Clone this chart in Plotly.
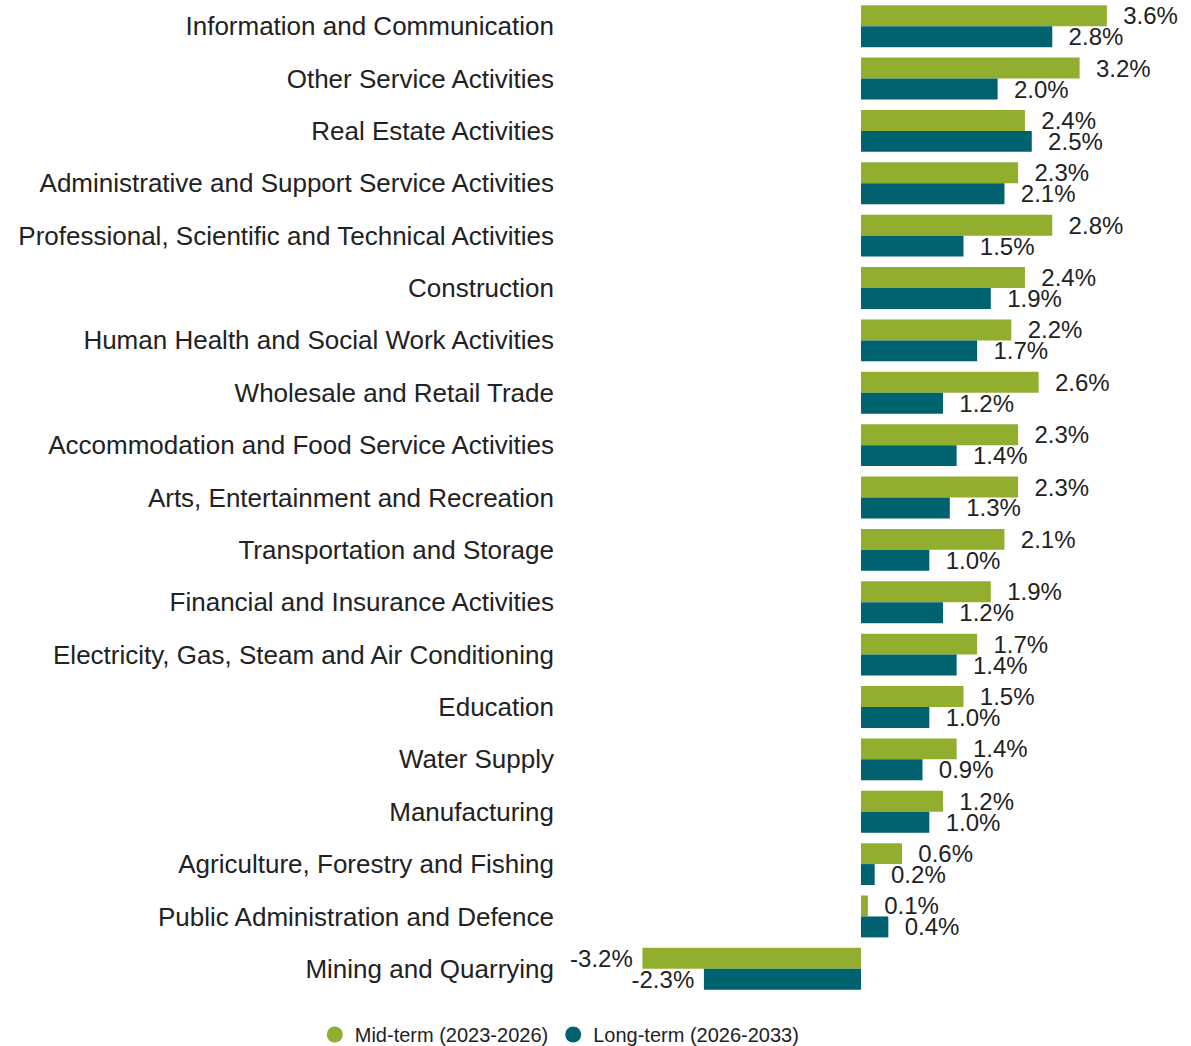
import plotly.graph_objects as go

categories = [
    "Information and Communication",
    "Other Service Activities",
    "Real Estate Activities",
    "Administrative and Support Service Activities",
    "Professional, Scientific and Technical Activities",
    "Construction",
    "Human Health and Social Work Activities",
    "Wholesale and Retail Trade",
    "Accommodation and Food Service Activities",
    "Arts, Entertainment and Recreation",
    "Transportation and Storage",
    "Financial and Insurance Activities",
    "Electricity, Gas, Steam and Air Conditioning",
    "Education",
    "Water Supply",
    "Manufacturing",
    "Agriculture, Forestry and Fishing",
    "Public Administration and Defence",
    "Mining and Quarrying",
]
mid_term = [3.6, 3.2, 2.4, 2.3, 2.8, 2.4, 2.2, 2.6, 2.3, 2.3, 2.1, 1.9, 1.7, 1.5, 1.4, 1.2, 0.6, 0.1, -3.2]
long_term = [2.8, 2.0, 2.5, 2.1, 1.5, 1.9, 1.7, 1.2, 1.4, 1.3, 1.0, 1.2, 1.4, 1.0, 0.9, 1.0, 0.2, 0.4, -2.3]
series_names = ["Mid-term (2023-2026)", "Long-term (2026-2033)"]
colors = ["#91AE2F", "#00626F"]

FONT = "Liberation Sans, Arial, sans-serif"


def labels(vals):
    return [("  %.1f%%" % v) if v >= 0 else ("%.1f%% " % v) for v in vals]


fig = go.Figure()
for name, vals, col in zip(series_names, [mid_term, long_term], colors):
    fig.add_trace(go.Bar(
        y=categories, x=vals, orientation="h", name=name,
        marker=dict(color=col, line=dict(width=0)),
        text=labels(vals), textposition="outside", constraintext="none",
        textfont=dict(family=FONT, size=24, color="#222222"),
        cliponaxis=False, showlegend=False, hoverinfo="skip",
    ))
    fig.add_trace(go.Scatter(
        x=[None], y=[None], mode="markers", name=name,
        marker=dict(color=col, size=18, symbol="circle"),
        showlegend=True,
    ))

fig.update_layout(
    width=1191, height=1046, autosize=False,
    margin=dict(l=563, r=11, t=0, b=51),
    paper_bgcolor="white", plot_bgcolor="white",
    barmode="group", bargap=0.2, bargroupgap=0,
    font=dict(family=FONT, color="#222222"),
    xaxis=dict(range=[-4.363, 4.67], showgrid=False, zeroline=False,
               showticklabels=False, ticks="", showline=False, fixedrange=True),
    yaxis=dict(autorange="reversed", showgrid=False, zeroline=False, ticks="",
               showline=False, tickfont=dict(family=FONT, size=26, color="#222222"),
               ticklabelstandoff=8, fixedrange=True),
    legend=dict(orientation="h", xref="container", yref="container",
                x=0.47, y=0.011, xanchor="center", yanchor="middle",
                font=dict(family=FONT, size=20, color="#222222"),
                itemwidth=30, tracegroupgap=0),
)

fig.write_html("out.html", config={"displayModeBar": False},
               post_script="document.body.style.margin='0px';document.body.style.overflow='hidden';")
